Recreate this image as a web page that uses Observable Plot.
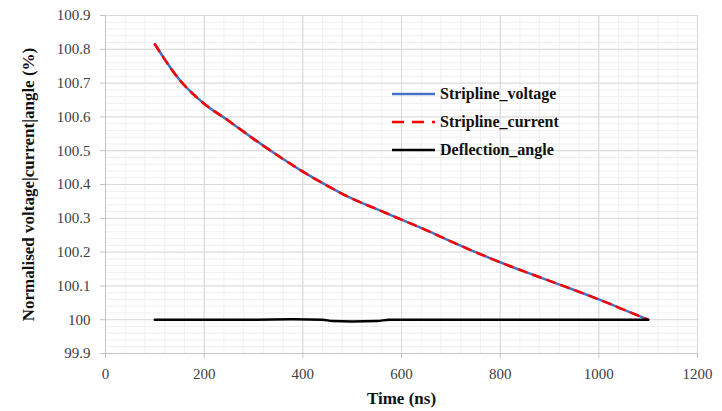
<!DOCTYPE html>
<html><head><meta charset="utf-8">
<script src="https://cdn.jsdelivr.net/npm/d3@7"></script>
<script src="https://cdn.jsdelivr.net/npm/@observablehq/plot@0.6"></script>
<style>
body{margin:0;background:#fff;}
#wrap{position:relative;width:722px;height:411px;}
.legend{position:absolute;left:392px;top:80px;font-weight:bold;font-size:16px;color:#111;}
.row{display:flex;align-items:center;height:28px;}
.row svg{margin-right:5px;}
g[aria-label="x-axis label"] text, g[aria-label="y-axis label"] text{font-weight:bold;fill:#111;font-size:17px;}
</style></head>
<body>
<div id="wrap"></div>
<script>
// Data
const times = [100,150,200,250,300,350,400,450,500,550,600,650,700,750,800,850,900,950,1000,1050,1100];
const striplineVoltage = [100.815,100.71,100.639,100.588,100.535,100.485,100.438,100.396,100.358,100.327,100.296,100.265,100.232,100.2,100.17,100.142,100.115,100.088,100.06,100.03,100.0];
const striplineCurrent = [100.815,100.71,100.639,100.588,100.535,100.485,100.438,100.396,100.358,100.327,100.296,100.265,100.232,100.2,100.17,100.142,100.115,100.088,100.06,100.03,100.0];
const angleTimes = [100,200,300,380,440,460,500,550,575,700,800,900,1000,1100];
const deflectionAngle = [100,100,100,100.001,100,99.996,99.995,99.996,100,100,100,100,100,100];
const xTicks = [0,200,400,600,800,1000,1200];
const xTickLabels = ["0","200","400","600","800","1000","1200"];
const yTicks = [99.9,100,100.1,100.2,100.3,100.4,100.5,100.6,100.7,100.8,100.9];
const yTickLabels = ["99.9","100","100.1","100.2","100.3","100.4","100.5","100.6","100.7","100.8","100.9"];
const seriesNames = ["Stripline_voltage","Stripline_current","Deflection_angle"];
const seriesColors = ["#4472C4","#FF0000","#000000"];

// pick an installed serif font
function pickSerif() {
  const cands = ["Liberation Serif","Times New Roman","Tinos","DejaVu Serif","Noto Serif","FreeSerif","Nimbus Roman"];
  const c = document.createElement("canvas").getContext("2d");
  const s = "Normalised voltage|current 0123456789";
  for (const base of ["monospace","sans-serif"]) {
    c.font = `40px ${base}`; const w0 = c.measureText(s).width;
    for (const f of cands) {
      c.font = `40px "${f}", ${base}`;
      if (Math.abs(c.measureText(s).width - w0) > 0.5) { return `"${f}", serif`; }
    }
  }
  return "serif";
}
const serifFont = pickSerif();
const st = document.createElement("style");
st.textContent = `#wrap svg, #wrap svg text, .legend {font-family:${serifFont} !important;}`;
document.head.appendChild(st);

const xMinor = d3.range(0, 1201, 40);
const yMinor = d3.range(0, 51).map(i => 99.9 + i * 0.02);

const volt = times.map((t,i) => ({t, v: striplineVoltage[i]}));
const curr = times.map((t,i) => ({t, v: striplineCurrent[i]}));
const ang = angleTimes.map((t,i) => ({t, v: deflectionAngle[i]}));

const plot = Plot.plot({
  width: 722, height: 411,
  marginLeft: 105, marginRight: 25, marginTop: 15, marginBottom: 58,
  style: {fontSize: "15px", background: "white", color: "#404040"},
  x: {domain: [0, 1200]},
  y: {domain: [99.9, 100.9]},
  marks: [
    Plot.gridX(xMinor, {stroke: "#f0f0f0", strokeOpacity: 1}),
    Plot.gridY(yMinor, {stroke: "#f0f0f0", strokeOpacity: 1}),
    Plot.gridX(xTicks, {stroke: "#d9d9d9", strokeOpacity: 1}),
    Plot.gridY(yTicks, {stroke: "#d9d9d9", strokeOpacity: 1}),
    Plot.frame({stroke: "#d9d9d9"}),
    Plot.ruleX([0], {stroke: "#c4c4c4"}),
    Plot.ruleY([99.9], {stroke: "#c4c4c4"}),
    Plot.axisX({ticks: xTicks, tickFormat: (d, i) => xTickLabels[i], tickSize: 5, tickPadding: 10, stroke: "#c4c4c4", fill: "#404040", label: "Time (ns)", labelAnchor: "center", labelArrow: "none", labelOffset: 50}),
    Plot.axisY({ticks: yTicks, tickFormat: (d, i) => yTickLabels[i], tickSize: 5, tickPadding: 10, stroke: "#c4c4c4", fill: "#404040", label: "Normalised voltage|current|angle (%)", labelAnchor: "center", labelArrow: "none", labelOffset: 84}),
    Plot.line(volt, {x: "t", y: "v", stroke: seriesColors[0], strokeWidth: 2.5, curve: "monotone-x"}),
    Plot.line(curr, {x: "t", y: "v", stroke: seriesColors[1], strokeWidth: 2.5, strokeDasharray: "8,7", curve: "monotone-x"}),
    Plot.line(ang, {x: "t", y: "v", stroke: seriesColors[2], strokeWidth: 2.5, curve: "monotone-x"})
  ]
});
const wrap = document.getElementById("wrap");
wrap.appendChild(plot);

const legend = document.createElement("div");
legend.className = "legend";
seriesNames.forEach((name, i) => {
  const row = document.createElement("div");
  row.className = "row";
  const dash = i === 1 ? 'stroke-dasharray="12,8"' : '';
  row.innerHTML = `<svg width="43" height="6"><line x1="0" y1="3" x2="43" y2="3" stroke="${seriesColors[i]}" stroke-width="2.5" ${dash}/></svg><span>${name}</span>`;
  legend.appendChild(row);
});
wrap.appendChild(legend);
</script>
</body></html>
